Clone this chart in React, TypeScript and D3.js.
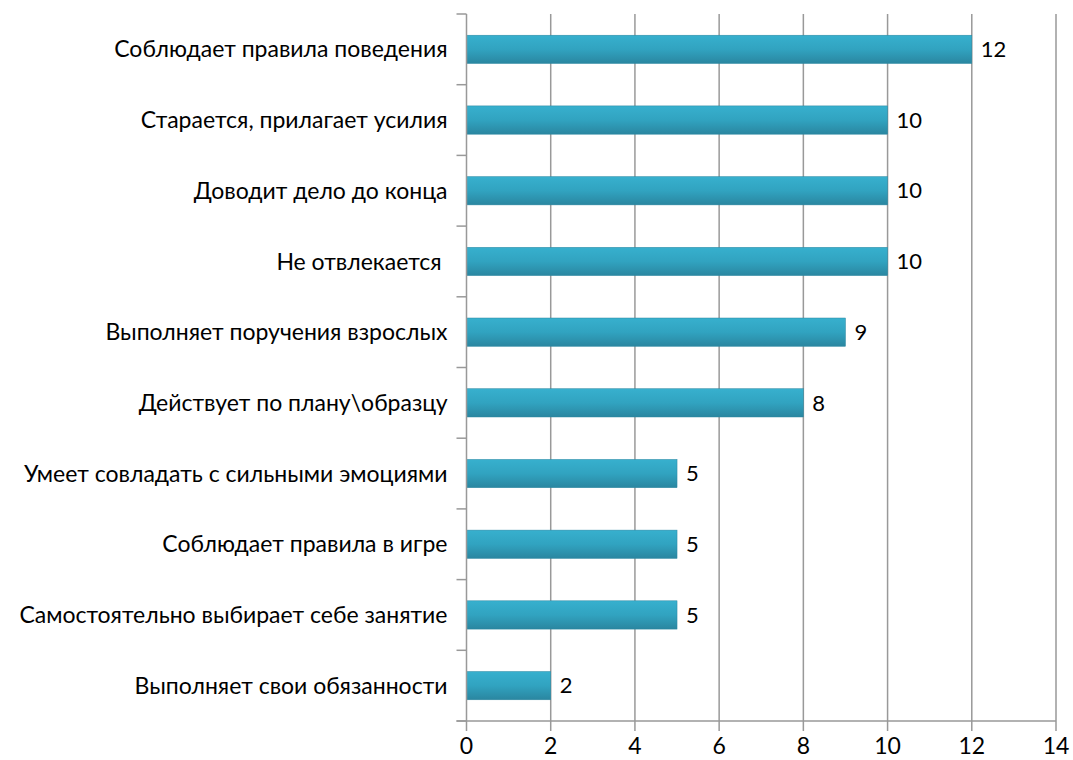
import React, { useEffect, useRef } from 'react';
import * as d3 from 'd3';

// категории сверху вниз
const categories: string[] = [
  'Соблюдает правила поведения',
  'Старается, прилагает усилия',
  'Доводит дело до конца',
  'Не отвлекается ',
  'Выполняет поручения взрослых',
  'Действует по плану\\образцу',
  'Умеет совладать с сильными эмоциями',
  'Соблюдает правила в игре',
  'Самостоятельно выбирает себе занятие',
  'Выполняет свои обязанности',
];
const values: number[] = [12, 10, 10, 10, 9, 8, 5, 5, 5, 2];
const xTicks: number[] = [0, 2, 4, 6, 8, 10, 12, 14];

const W = 1073;
const H = 760;
const FONT = 'Lato, Carlito, "Liberation Sans", sans-serif';

const App = () => {
  const svgRef = useRef<SVGSVGElement>(null);

  useEffect(() => {
    const svg = d3.select(svgRef.current);
    svg.selectAll('*').remove();

    const left = 466.5, right = 1056, top = 14, bottom = 721;

    const x = d3.scaleLinear().domain([0, 14]).range([left, right]);
    const y = d3.scaleBand<string>().domain(categories).range([top, bottom]).paddingInner(0.6).paddingOuter(0.3);
    const band = (bottom - top) / categories.length;

    const defs = svg.append('defs');
    const grad = defs.append('linearGradient').attr('id', 'barGrad')
      .attr('x1', 0).attr('y1', 0).attr('x2', 0).attr('y2', 1);
    grad.append('stop').attr('offset', '0%').attr('stop-color', '#37b0ce');
    grad.append('stop').attr('offset', '50%').attr('stop-color', '#31a3c0');
    grad.append('stop').attr('offset', '100%').attr('stop-color', '#2a86a0');

    // вертикальная сетка
    svg.append('g')
      .selectAll('line')
      .data(xTicks.slice(1))
      .join('line')
      .attr('x1', d => x(d)).attr('x2', d => x(d))
      .attr('y1', top).attr('y2', bottom + 10)
      .attr('stroke', '#999').attr('stroke-width', 1.5);

    // столбцы
    svg.append('g')
      .selectAll('rect')
      .data(values)
      .join('rect')
      .attr('x', x(0))
      .attr('y', (_, i) => y(categories[i])!)
      .attr('width', d => x(d) - x(0))
      .attr('height', y.bandwidth())
      .attr('fill', 'url(#barGrad)')
      .attr('stroke', '#2a86a0')
      .attr('stroke-width', 0.5);

    // подписи значений
    svg.append('g')
      .selectAll('text')
      .data(values)
      .join('text')
      .attr('x', d => x(d) + 9)
      .attr('y', (_, i) => y(categories[i])! + y.bandwidth() / 2)
      .attr('dy', '0.35em')
      .attr('font-family', FONT)
      .attr('font-size', 22)
      .attr('fill', '#000')
      .text(d => d);

    // ось Y
    const yAxis = svg.append('g').attr('stroke', '#999').attr('stroke-width', 1.5);
    yAxis.append('line')
      .attr('x1', left).attr('x2', left).attr('y1', top).attr('y2', bottom + 10);
    yAxis.selectAll('line.tick')
      .data(d3.range(categories.length + 1))
      .join('line')
      .attr('class', 'tick')
      .attr('x1', left - 10).attr('x2', left)
      .attr('y1', i => top + i * band).attr('y2', i => top + i * band);

    // ось X
    svg.append('line')
      .attr('x1', left - 10).attr('x2', right)
      .attr('y1', bottom).attr('y2', bottom)
      .attr('stroke', '#999').attr('stroke-width', 1.5);

    svg.append('g')
      .selectAll('text')
      .data(xTicks)
      .join('text')
      .attr('x', d => x(d))
      .attr('y', 754)
      .attr('text-anchor', 'middle')
      .attr('font-family', FONT)
      .attr('font-size', 23)
      .attr('fill', '#000')
      .text(d => d);

    // подписи категорий
    svg.append('g')
      .selectAll('text')
      .data(categories)
      .join('text')
      .attr('x', left - 19)
      .attr('y', d => y(d)! + y.bandwidth() / 2)
      .attr('dy', '0.35em')
      .attr('text-anchor', 'end')
      .attr('font-family', FONT)
      .attr('font-size', 23)
      .attr('fill', '#000')
      .style('white-space', 'pre')
      .text(d => d);
  }, []);

  return (
    <svg ref={svgRef} width={W} height={H}
      style={{ position: 'absolute', left: 0, top: 0, background: '#fff' }} />
  );
};

export default App;
